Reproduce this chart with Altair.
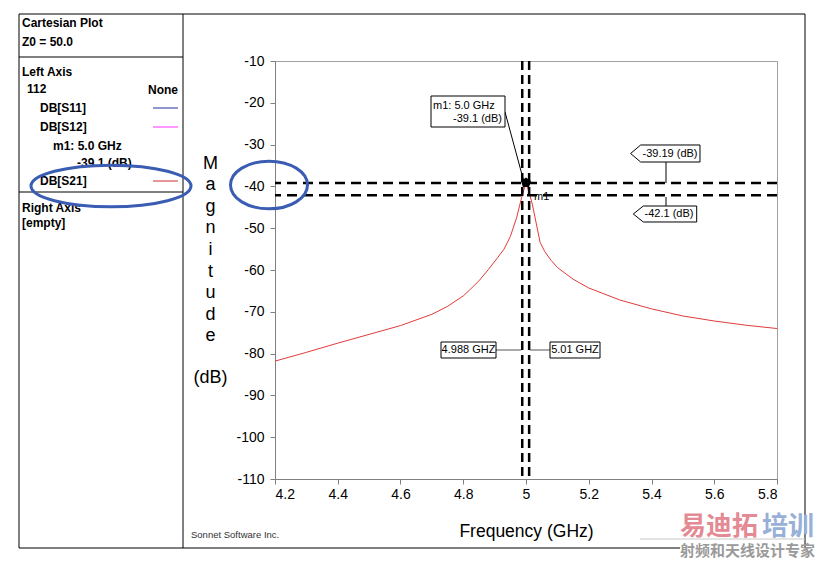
import altair as alt
import pandas as pd

# ---------------- data ----------------
freq_ghz = [4.2, 4.3, 4.4, 4.5, 4.6, 4.7, 4.75, 4.8, 4.82, 4.85, 4.88, 4.91, 4.93, 4.95, 4.97,
            4.985, 5.0, 5.01, 5.02, 5.045, 5.06, 5.08, 5.1, 5.15, 5.2, 5.3, 5.4, 5.5, 5.6, 5.7, 5.8]
s21_db = [-81.8, -79.7, -77.5, -75.4, -73.3, -70.6, -68.7, -66.2, -64.8, -62.6, -59.9, -57.0,
          -55.0, -52.0, -47.5, -43.0, -39.1, -41.5, -44.2, -53.4, -55.6, -57.7, -59.4, -62.2,
          -64.3, -67.2, -69.3, -71.0, -72.2, -73.2, -74.0]
x_ticks = [4.2, 4.4, 4.6, 4.8, 5.0, 5.2, 5.4, 5.6, 5.8]
y_ticks = [-110, -100, -90, -80, -70, -60, -50, -40, -30, -20, -10]
marker_freq = [5.0]
marker_db = [-39.1]
hline_db = [-39.19, -42.1]
vline_ghz = [4.988, 5.01]

# ---------------- layout ----------------
W, H = 502, 418
OX, OY = 275, 61          # page position of the plot origin
TOTAL_W, TOTAL_H = 819, 551
PAD = {"left": OX - 8, "top": OY - 8, "right": TOTAL_W - (OX - 8) - W,
       "bottom": TOTAL_H - (OY - 8) - H}
FONT = "Liberation Sans"
dummy = alt.Data(values=[{"k": 1}])


def X(v):
    return alt.value(v - OX)


def Y(v):
    return alt.value(v - OY)


def seg(x1, y1, x2, y2, color="black", width=1.0, dash=None):
    kw = dict(color=color, strokeWidth=width)
    if dash:
        kw["strokeDash"] = dash
    return alt.Chart(dummy).mark_rule(**kw).encode(x=X(x1), y=Y(y1), x2=X(x2), y2=Y(y2))


def txt(x, y, s, size=12, bold=False, align="left", color="black", font=FONT):
    return alt.Chart(dummy).mark_text(
        text=s, align=align, baseline="middle", font=font, fontSize=size,
        fontWeight="bold" if bold else "normal", color=color
    ).encode(x=X(x), y=Y(y))


def box(x1, y1, x2, y2):
    return alt.Chart(dummy).mark_rect(fill="white", stroke="black", strokeWidth=1).encode(
        x=X(x1), x2=X(x2), y=Y(y1), y2=Y(y2))


def shape(cx, cy, path, size, fill=None, stroke="black", sw=1.0):
    kw = dict(shape=path, size=size, stroke=stroke, strokeWidth=sw, opacity=1)
    if fill:
        kw.update(filled=True, fill=fill)
    else:
        kw.update(filled=False, fillOpacity=0)
    return alt.Chart(dummy).mark_point(**kw).encode(x=X(cx), y=Y(cy))


layers = []

# outer frame and left information panel
layers += [
    seg(19, 14, 805, 14), seg(19, 14, 19, 548), seg(805, 14, 805, 548),
    seg(19, 548, 680, 548), seg(183, 14, 183, 548),
    seg(19, 57, 183, 57), seg(19, 192, 183, 192),
    seg(640, 539, 805, 539, color="#c8c8c8"),
]
layers += [
    txt(22, 23, "Cartesian Plot", bold=True),
    txt(22, 42, "Z0 = 50.0", bold=True),
    txt(22, 72, "Left Axis", bold=True),
    txt(27, 89, "112", bold=True),
    txt(178, 90, "None", bold=True, align="right"),
    txt(40, 108, "DB[S11]", bold=True),
    txt(40, 127, "DB[S12]", bold=True),
    txt(53, 146, "m1:  5.0 GHz", bold=True),
    txt(77, 163, "-39.1  (dB)", bold=True),
    txt(40, 181, "DB[S21]", bold=True),
    txt(22, 208, "Right Axis", bold=True),
    txt(22, 223, "[empty]", bold=True),
    seg(153, 108, 178, 108, color="#1f2f9a"),
    seg(153, 127, 178, 127, color="#ff33ff"),
    seg(153, 181, 178, 181, color="#cc3030"),
    txt(191, 535, "Sonnet Software Inc.", size=9.5, color="#333333"),
    txt(210.5, 378, "(dB)", size=18, align="center"),
]

# main data: S21 curve
df = pd.DataFrame({"f": freq_ghz, "db": s21_db})
xscale = alt.Scale(domain=[4.2, 5.8], nice=False, zero=False)
yscale = alt.Scale(domain=[-110, -10], nice=False, zero=False)
curve = alt.Chart(df).mark_line(color="#e23b3b", strokeWidth=1).encode(
    x=alt.X("f:Q", scale=xscale, axis=alt.Axis(
        values=x_ticks, format="~g", title="Frequency (GHz)", labelPadding=3,
        titleFontSize=17.5, titleY=52, titleBaseline="middle")),
    y=alt.Y("db:Q", scale=yscale, axis=alt.Axis(
        values=y_ticks, labelPadding=6,
        labelExpr="datum.value < 0 ? '-' + abs(datum.value) : '' + datum.value",
        title=["M", "a", "g", "n", "i", "t", "u", "d", "e"],
        titleAngle=0, titleX=-65, titleY=93, titleAlign="center", titleBaseline="top",
        titleLineHeight=21.6, titleFontSize=18)),
)
layers.append(curve)

# marker dashed lines
hl = alt.Chart(pd.DataFrame({"db": hline_db})).mark_rule(
    color="black", strokeWidth=2.5, strokeDash=[10, 6]).encode(y=alt.Y("db:Q", scale=yscale))
vl = alt.Chart(pd.DataFrame({"f": vline_ghz})).mark_rule(
    color="black", strokeWidth=2.5, strokeDash=[9, 5]).encode(x=alt.X("f:Q", scale=xscale))
layers += [hl, vl]

# callouts
layers += [
    seg(505, 112, 524, 182),
    box(431, 96, 505, 127),
    txt(433, 106, "m1: 5.0 GHz", size=11),
    txt(502, 119, "-39.1  (dB)", size=11, align="right"),
    seg(666, 162, 666, 183), seg(666, 197, 666, 206),
    shape(665.3, 153.5, "M -1 0 L -0.71 -0.245 L 1 -0.245 L 1 0.245 L -0.71 0.245 Z",
          69.4 ** 2, fill="white"),
    txt(670, 153.5, "-39.19  (dB)", size=11, align="center"),
    shape(665, 214, "M -1 0 L -0.685 -0.252 L 1 -0.252 L 1 0.252 L -0.685 0.252 Z",
          63.4 ** 2, fill="white"),
    txt(669, 214, "-42.1  (dB)", size=11, align="center"),
    seg(496, 350, 521, 350, color="#555555"), seg(530, 350, 550, 350, color="#555555"),
    box(441, 342, 496, 358), txt(468.5, 350, "4.988 GHZ", size=11, align="center"),
    box(550, 342, 600, 358), txt(575, 350, "5.01 GHZ", size=11, align="center"),
]

# marker m1 point and label
mk = pd.DataFrame({"f": marker_freq, "db": marker_db})
pent = "M 0 -1 L 0.95 -0.31 L 0.59 0.81 L -0.59 0.81 L -0.95 -0.31 Z"
layers += [
    alt.Chart(mk).mark_point(shape=pent, filled=True, color="black", size=110, opacity=1).encode(
        x=alt.X("f:Q", scale=xscale), y=alt.Y("db:Q", scale=yscale)),
    alt.Chart(mk).mark_text(text="m1", align="left", baseline="middle", dx=8, dy=14,
                            font=FONT, fontSize=11, color="black").encode(
        x=alt.X("f:Q", scale=xscale), y=alt.Y("db:Q", scale=yscale)),
]

# hand-drawn blue ellipses
ell = "M -1 0 A 1 {r} 0 1 1 1 0 A 1 {r} 0 1 1 -1 0 Z"
layers += [
    shape(111, 186, ell.format(r=0.26), 160 ** 2, stroke="#3a5db3", sw=3),
    shape(269, 185, ell.format(r=0.62), 77 ** 2, stroke="#3a5db3", sw=3),
]

# watermark
CJK = "Noto Sans CJK SC"
layers += [
    txt(680, 527, "易迪拓", size=26, bold=True, color="#e48a94", font=CJK),
    txt(762, 527, "培训", size=26, bold=True, color="#98b0d8", font=CJK),
    txt(680, 551, "射频和天线设计专家", size=15, bold=True, color="#9a9a9a", font=CJK),
]

chart = alt.layer(*layers).properties(
    width=W, height=H, padding=PAD, autosize=alt.AutoSizeParams(type="none")
).configure_view(stroke="#a0a0a0", strokeWidth=1).configure_axis(
    grid=False, labelFont=FONT, labelFontSize=14, labelColor="black",
    tickColor="#808080", domainColor="#808080", tickSize=5,
    titleFont=FONT, titleFontWeight="normal", titleColor="black",
)

chart.save("out.html", embed_options={"renderer": "svg", "actions": False})
